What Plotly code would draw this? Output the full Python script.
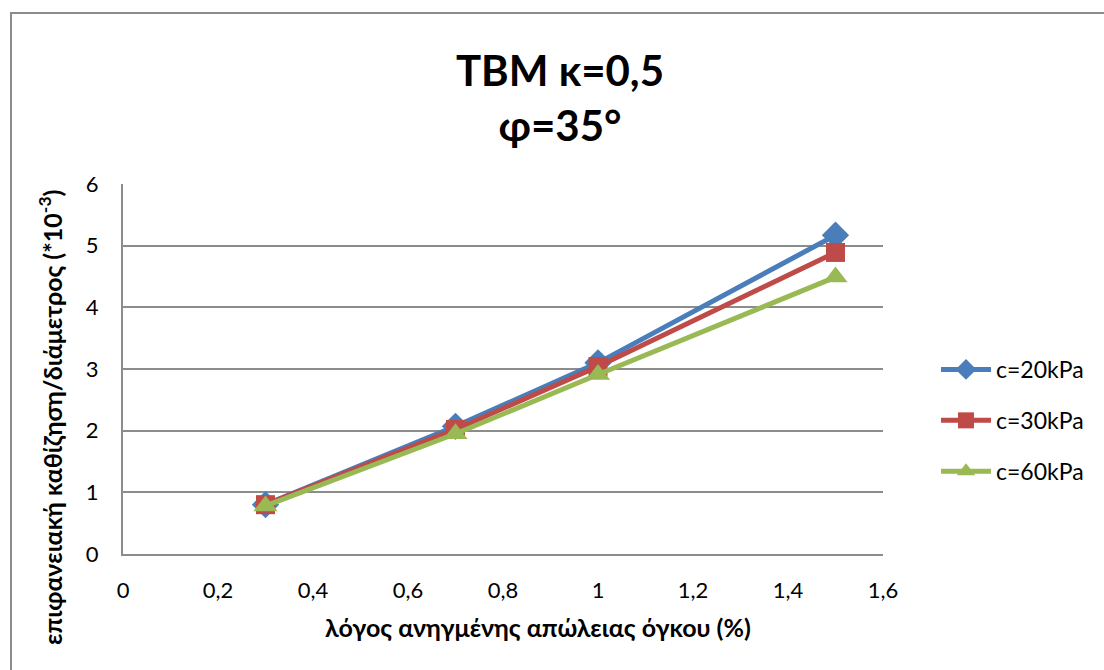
import plotly.graph_objects as go

# Volume loss ratio (%) and normalised surface settlement (x10^-3)
volume_loss = [0.3, 0.7, 1.0, 1.5]
settle_c20 = [0.80, 2.07, 3.10, 5.17]
settle_c30 = [0.80, 2.02, 3.04, 4.89]
settle_c60 = [0.78, 1.95, 2.91, 4.49]

series_names = ["c=20kPa", "c=30kPa", "c=60kPa"]
x_ticks = [0, 0.2, 0.4, 0.6, 0.8, 1.0, 1.2, 1.4, 1.6]
x_tick_text = ["0", "0,2", "0,4", "0,6", "0,8", "1", "1,2", "1,4", "1,6"]
y_ticks = [0, 1, 2, 3, 4, 5, 6]

colors = ["#4A7EBB", "#BE4B48", "#98B954"]
symbols = ["diamond", "square", "triangle-up"]
sizes = [21, 19, 21]

FONT = "Lato, 'Noto Sans', sans-serif"
GRID = "#8C8C8C"

fig = go.Figure()
for name, ys, col, sym, sz in zip(series_names, [settle_c20, settle_c30, settle_c60], colors, symbols, sizes):
    fig.add_trace(go.Scatter(
        x=volume_loss, y=ys, name=name, mode="lines+markers",
        legendgroup=name,
        line=dict(color=col, width=5),
        marker=dict(symbol=sym, size=sz, color=col, line=dict(width=0)),
    ))

W, H = 1104, 670
L, R, T, B = 123, 221, 184, 116
pw, ph = W - L - R, H - T - B

def px_x(px):
    return (px - L) / pw

def px_y(py):
    return (H - B - py) / ph

fig.update_layout(
    width=W, height=H,
    margin=dict(l=L, r=R, t=T, b=B, pad=0),
    paper_bgcolor="white", plot_bgcolor="white",
    font=dict(family=FONT, color="black", size=22),
    title=dict(
        text="<b>TBM κ=0,5<br>φ=35°</b>",
        x=560 / W, xanchor="center", xref="container",
        y=1 - 86 / H, yanchor="middle", yref="container",
        font=dict(size=42, family=FONT, color="black"),
    ),
    showlegend=True,
    legend=dict(
        x=px_x(936), y=px_y(348), xanchor="left", yanchor="top",
        font=dict(size=23, family=FONT, color="black"),
        tracegroupgap=18, itemwidth=50,
        bgcolor="rgba(0,0,0,0)",
    ),
    xaxis=dict(
        range=[0, 1.6], tickvals=x_ticks, ticktext=x_tick_text,
        showgrid=False, zeroline=False,
        showline=True, linecolor=GRID, linewidth=2,
        ticks="", ticklabelstandoff=16,
        tickfont=dict(size=22, family=FONT),
        fixedrange=True,
    ),
    yaxis=dict(
        range=[0, 6], tickvals=y_ticks,
        showgrid=True, gridcolor=GRID, gridwidth=2,
        zeroline=False,
        showline=True, linecolor=GRID, linewidth=2,
        ticks="", ticklabelstandoff=18,
        tickfont=dict(size=22, family=FONT),
        fixedrange=True,
    ),
    annotations=[
        dict(
            text="<b>λόγος ανηγμένης απώλειας όγκου (%)</b>",
            xref="paper", yref="paper", x=px_x(538), y=px_y(627),
            xanchor="center", yanchor="middle", showarrow=False,
            font=dict(size=25, family=FONT, color="black"),
        ),
        dict(
            text="<b>επιφανειακή καθίζηση/διάμετρος (*10<sup>-3</sup>)</b>",
            xref="paper", yref="paper", x=px_x(50), y=px_y(418),
            xanchor="center", yanchor="middle", showarrow=False,
            textangle=-90,
            font=dict(size=25, family=FONT, color="black"),
        ),
    ],
    shapes=[
        dict(
            type="rect", xref="paper", yref="paper",
            x0=px_x(11), x1=px_x(1120), y0=px_y(690), y1=px_y(13),
            line=dict(color="#8C8C8C", width=2), fillcolor="rgba(0,0,0,0)",
            layer="below",
        ),
    ],
)

fig.write_html("out.html")
